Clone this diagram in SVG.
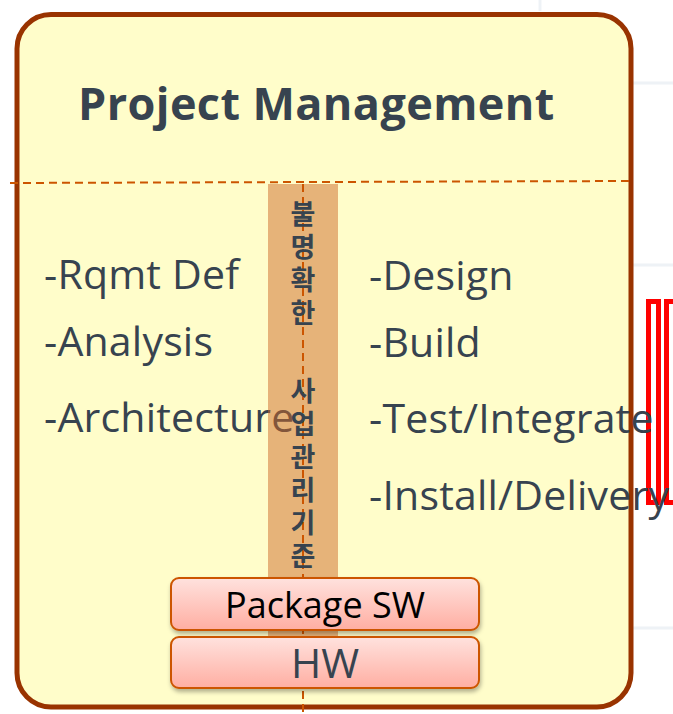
<svg xmlns="http://www.w3.org/2000/svg" width="673" height="714" viewBox="0 0 673 714">
  <style>
    .item { font-family: "Open Sans", "Noto Sans", sans-serif; font-size: 41px; letter-spacing: 0.2px; fill: #37434F; }
    .title { font-family: "Open Sans", "Noto Sans", sans-serif; font-size: 45px; letter-spacing: 0.4px; font-weight: bold; fill: #37434F; }
    .kr { font-family: "Noto Sans CJK KR", "Noto Sans", sans-serif; font-size: 27px; font-weight: bold; fill: #37434F; writing-mode: vertical-rl; letter-spacing: 6px; }
    .dash { stroke: #CC5500; stroke-width: 2; stroke-dasharray: 8 5; fill: none; }
    .box { stroke: #CC5500; stroke-width: 2; fill: url(#pinkGrad); filter: url(#shadow); }
    .faint { stroke: #EEF2F6; stroke-width: 3; }
  </style>
  <defs>
    <linearGradient id="pinkGrad" x1="0" y1="0" x2="0" y2="1">
      <stop offset="0" stop-color="#FFE2DE"/>
      <stop offset="1" stop-color="#FFAEA2"/>
    </linearGradient>
    <filter id="shadow" x="-10%" y="-20%" width="120%" height="160%">
      <feDropShadow dx="1" dy="3" stdDeviation="2" flood-color="#000" flood-opacity="0.3"/>
    </filter>
  </defs>

  <rect x="0" y="0" width="673" height="714" fill="#FFFFFF"/>
  <g id="background">
    <line class="faint" x1="633" y1="83" x2="673" y2="83"/>
    <line class="faint" x1="633" y1="265" x2="673" y2="265"/>
    <line class="faint" x1="633" y1="628" x2="673" y2="628"/>
    <line class="faint" x1="540" y1="0" x2="540" y2="11"/>
  </g>

  <g id="red-marker" fill="none" stroke="#FF0000" stroke-width="5">
    <rect x="648.5" y="301.5" width="10" height="201"/>
    <rect x="666.5" y="301.5" width="20" height="201"/>
  </g>

  <g id="project-management">
    <rect x="17" y="14.5" width="614" height="692.5" rx="34" ry="34" fill="#FFFDCA" stroke="#993300" stroke-width="5"/>
    <text class="title" x="78" y="120">Project Management</text>
  </g>

  <g id="connectors">
    <line class="dash" x1="10" y1="183" x2="630" y2="181"/>
  </g>

  <g id="left-phase">
    <text class="item" x="44" y="289">-Rqmt Def</text>
    <text class="item" x="44" y="356">-Analysis</text>
    <text class="item" x="44" y="432">-Architecture</text>
  </g>

  <g id="right-phase">
    <text class="item" x="369" y="290">-Design</text>
    <text class="item" x="369" y="357">-Build</text>
    <text class="item" x="369" y="433" letter-spacing="-0.3">-Test/Integrate</text>
    <text class="item" x="369" y="510">-Install/Delivery</text>
  </g>

  <g id="standard-band">
    <rect x="268" y="184" width="70" height="452" fill="#CD6928" fill-opacity="0.5"/>
    <line class="dash" x1="303" y1="184" x2="303" y2="714" stroke-width="1.5"/>
    <text class="kr" x="303" y="200">불명확한　 사업관리기준</text>
  </g>

  <g id="package-sw">
    <rect class="box" x="171" y="578" width="308" height="52" rx="8" ry="8"/>
    <text x="325" y="618" text-anchor="middle" font-family="Open Sans, Noto Sans, sans-serif" font-size="36" fill="#000000">Package SW</text>
  </g>

  <g id="hw">
    <rect class="box" x="171" y="637" width="308" height="51" rx="8" ry="8"/>
    <text x="325" y="678" text-anchor="middle" font-family="Open Sans, Noto Sans, sans-serif" font-size="41" fill="#37434F">HW</text>
  </g>
</svg>
